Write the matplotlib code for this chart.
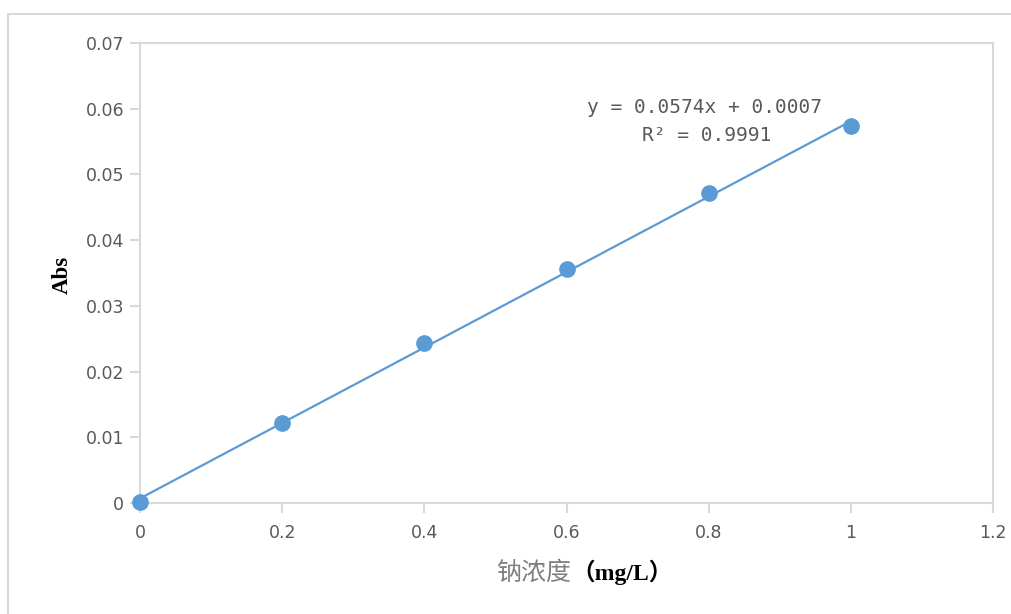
import matplotlib
matplotlib.use("Agg")
import matplotlib.pyplot as plt
from matplotlib.patches import Rectangle
import numpy as np

# Data
conc = [0, 0.2, 0.4, 0.6, 0.8, 1.0]
absorb = [0.0002, 0.0122, 0.0243, 0.0356, 0.0472, 0.0573]
slope = 0.0574
intercept = 0.0007
r2 = 0.9991
xticks = [0, 0.2, 0.4, 0.6, 0.8, 1, 1.2]
xtick_labels = ["0", "0.2", "0.4", "0.6", "0.8", "1", "1.2"]
yticks = [0, 0.01, 0.02, 0.03, 0.04, 0.05, 0.06, 0.07]
ytick_labels = ["0", "0.01", "0.02", "0.03", "0.04", "0.05", "0.06", "0.07"]

W, H = 1011, 614
fig = plt.figure(figsize=(W / 100, H / 100), dpi=100)
fig.patch.set_facecolor("white")

# outer chart border
fig.patches.append(Rectangle((8 / W, -0.1), 1.2, (H - 14) / H + 0.1,
                             transform=fig.transFigure, fill=False,
                             edgecolor="#d9d9d9", linewidth=1.5))

ax = fig.add_axes([140 / W, (H - 503) / H, 853 / W, 460 / H])
blue = "#5b9bd5"
grey = "#d9d9d9"

xs = np.array([conc[0], conc[-1]])
ax.plot(xs, slope * xs + intercept, color=blue, linewidth=1.6, zorder=2)
ax.plot(conc, absorb, linestyle="none", marker="o", markersize=11,
        color=blue, zorder=3, clip_on=False)

ax.set_xlim(0, 1.2)
ax.set_ylim(0, 0.07)
ax.set_xticks(xticks)
ax.set_xticklabels(xtick_labels)
ax.set_yticks(yticks)
ax.set_yticklabels(ytick_labels)

for s in ax.spines.values():
    s.set_color(grey)
    s.set_linewidth(1.5)
ax.tick_params(axis="both", direction="out", length=7, width=1.5, color=grey,
               labelcolor="#595959", labelsize=12.5)
for lbl in ax.get_xticklabels() + ax.get_yticklabels():
    lbl.set_family("DejaVu Sans")
ax.tick_params(axis="x", pad=8, top=False)
ax.tick_params(axis="y", pad=4.5, right=False)

fig.text(62 / W, 1 - 275 / H, "Abs", family="Liberation Serif", fontweight="bold",
         fontsize=16.5, color="black", rotation=90, ha="center", va="center")

# x label: grey CJK part + bold serif part
xl_y = (H - 580) / H
fig.text(571 / W, xl_y, "钠浓度", family=["Noto Sans CJK SC", "DejaVu Sans"],
         fontsize=18, color="#7f7f7f", ha="right", va="baseline")
fig.text(571 / W, xl_y, "（mg/L）", family=["Liberation Serif", "Noto Sans CJK SC"],
         fontsize=17, color="black", fontweight="bold", ha="left", va="baseline")

ax.text(0.7948, 0.0602, "y = 0.0574x + 0.0007", family="DejaVu Sans Mono",
        fontsize=14, color="#595959", ha="center", va="center")
ax.text(0.7975, 0.0559, "R² = 0.9991", family="DejaVu Sans Mono",
        fontsize=14, color="#595959", ha="center", va="center")

fig.savefig("out.png", dpi=100)
